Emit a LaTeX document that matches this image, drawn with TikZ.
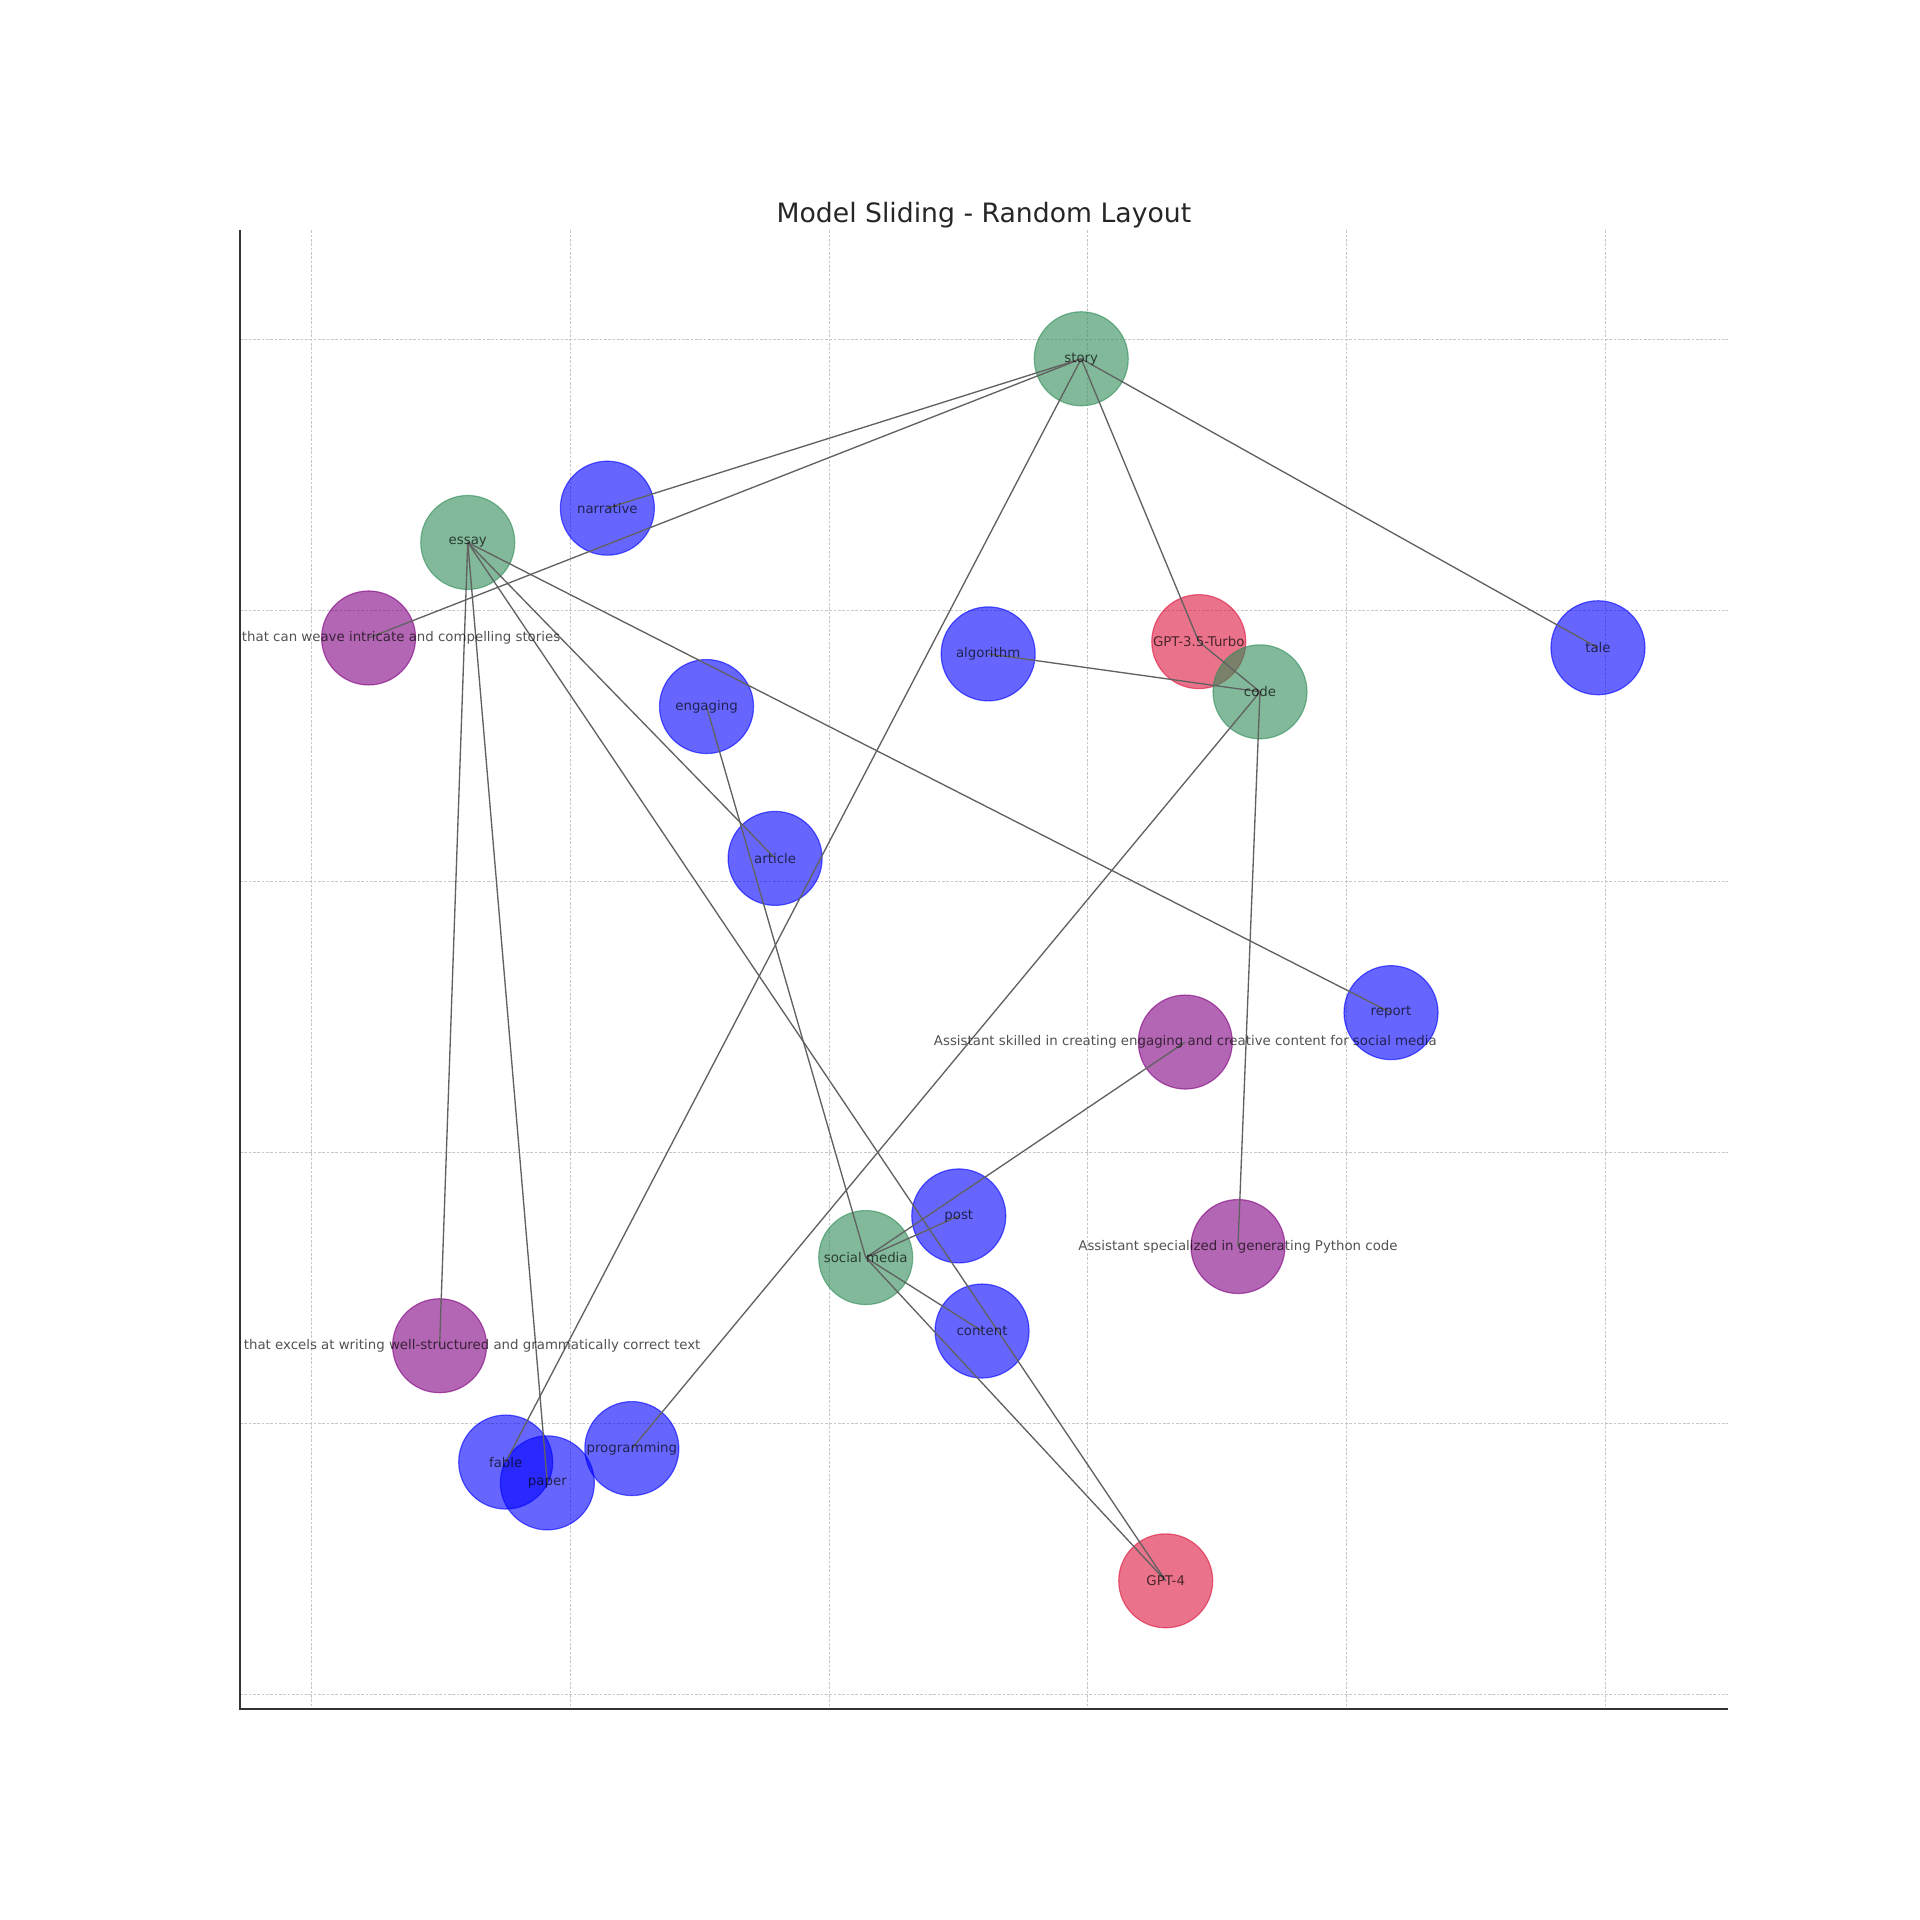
\documentclass[tikz,border=0pt]{standalone}
\usepackage{fontspec}
\setmainfont{DejaVu Sans}
\definecolor{cgreen}{RGB}{46,139,87}
\definecolor{cblue}{RGB}{0,0,255}
\definecolor{cred}{RGB}{220,20,60}
\definecolor{cpurple}{RGB}{128,0,128}
\begin{document}
\begin{tikzpicture}[x=0.7347pt,y=-0.7347pt,
  nd/.style={circle, minimum size=56.4pt, inner sep=0pt, outer sep=0pt, draw=#1, fill=#1, fill opacity=0.6, draw opacity=0.6, line width=0.7pt},
  edgeline/.style={draw=black!62, line width=0.8pt},
  lbl/.style={font=\fontsize{8}{9.6}\selectfont, text=black, text opacity=0.68, inner sep=0pt},
  gridline/.style={draw=black!22, line width=0.5pt, dash pattern=on 1.6pt off 1pt},
  spine/.style={draw=black!80, line width=0.9pt}]
\useasboundingbox (0,0) rectangle (1568,1568);
% grid
\foreach \x in {254.2,465.6,677,888.4,1099.8,1311.2} \draw[gridline] (\x,188) -- (\x,1395);
\foreach \y in {277,498.4,719.8,941.2,1162.6,1384} \draw[gridline] (196,\y) -- (1411,\y);
% spines
\draw[spine] (196,188) -- (196,1395.5) -- (1411,1395.5);
% title
\node[font=\fontsize{16}{19}\selectfont, text=black!85, anchor=base, inner sep=0pt] (title) at (803.5,182) {Model Sliding - Random Layout};
% nodes
\node[nd=cgreen] (story) at (883,293) {};
\node[nd=cblue] (narrative) at (496,415) {};
\node[nd=cgreen] (essay) at (382,443) {};
\node[nd=cpurple] (pA) at (301,521) {};
\node[nd=cred] (gpt35) at (979,524) {};
\node[nd=cblue] (algorithm) at (807,534) {};
\node[nd=cblue] (tale) at (1305,529) {};
\node[nd=cgreen] (code) at (1029,565) {};
\node[nd=cblue] (engaging) at (577,577) {};
\node[nd=cblue] (article) at (633,701) {};
\node[nd=cblue] (report) at (1136,827) {};
\node[nd=cpurple] (pB) at (968,851) {};
\node[nd=cblue] (post) at (783,993) {};
\node[nd=cpurple] (pC) at (1011,1018) {};
\node[nd=cgreen] (social) at (707,1027) {};
\node[nd=cblue] (content) at (802,1087) {};
\node[nd=cpurple] (pD) at (359,1099) {};
\node[nd=cblue] (programming) at (516,1183) {};
\node[nd=cblue] (fable) at (413,1194) {};
\node[nd=cblue] (paper) at (447,1211) {};
\node[nd=cred] (gpt4) at (952,1291) {};
% edges
\draw[edgeline] (story.center) -- (narrative.center);
\draw[edgeline] (story.center) -- (pA.center);
\draw[edgeline] (story.center) -- (fable.center);
\draw[edgeline] (story.center) -- (gpt35.center);
\draw[edgeline] (story.center) -- (tale.center);
\draw[edgeline] (gpt35.center) -- (code.center);
\draw[edgeline] (algorithm.center) -- (code.center);
\draw[edgeline] (code.center) -- (programming.center);
\draw[edgeline] (code.center) -- (pC.center);
\draw[edgeline] (essay.center) -- (report.center);
\draw[edgeline] (essay.center) -- (article.center);
\draw[edgeline] (essay.center) -- (gpt4.center);
\draw[edgeline] (essay.center) -- (pD.center);
\draw[edgeline] (essay.center) -- (paper.center);
\draw[edgeline] (engaging.center) -- (social.center);
\draw[edgeline] (social.center) -- (post.center);
\draw[edgeline] (social.center) -- (pB.center);
\draw[edgeline] (social.center) -- (content.center);
\draw[edgeline] (social.center) -- (gpt4.center);
% labels
\begin{scope}
\clip (196,188) rectangle (1411,1395.5);
\node[lbl] (story-l) at (story) {story};
\node[lbl] (narrative-l) at (narrative) {narrative};
\node[lbl] (essay-l) at (essay) {essay};
\node[lbl] (pA-l) at (pA) {Assistant that can weave intricate and compelling stories};
\node[lbl] (gpt35-l) at (gpt35) {GPT-3.5-Turbo};
\node[lbl] (algorithm-l) at (algorithm) {algorithm};
\node[lbl] (tale-l) at (tale) {tale};
\node[lbl] (code-l) at (code) {code};
\node[lbl] (engaging-l) at (engaging) {engaging};
\node[lbl] (article-l) at (article) {article};
\node[lbl] (report-l) at (report) {report};
\node[lbl] (pB-l) at (pB) {Assistant skilled in creating engaging and creative content for social media};
\node[lbl] (post-l) at (post) {post};
\node[lbl] (pC-l) at (pC) {Assistant specialized in generating Python code};
\node[lbl] (social-l) at (social) {social media};
\node[lbl] (content-l) at (content) {content};
\node[lbl] (pD-l) at (pD) {Assistant that excels at writing well-structured and grammatically correct text};
\node[lbl] (programming-l) at (programming) {programming};
\node[lbl] (fable-l) at (fable) {fable};
\node[lbl] (paper-l) at (paper) {paper};
\node[lbl] (gpt4-l) at (gpt4) {GPT-4};
\end{scope}
\end{tikzpicture}
\end{document}
